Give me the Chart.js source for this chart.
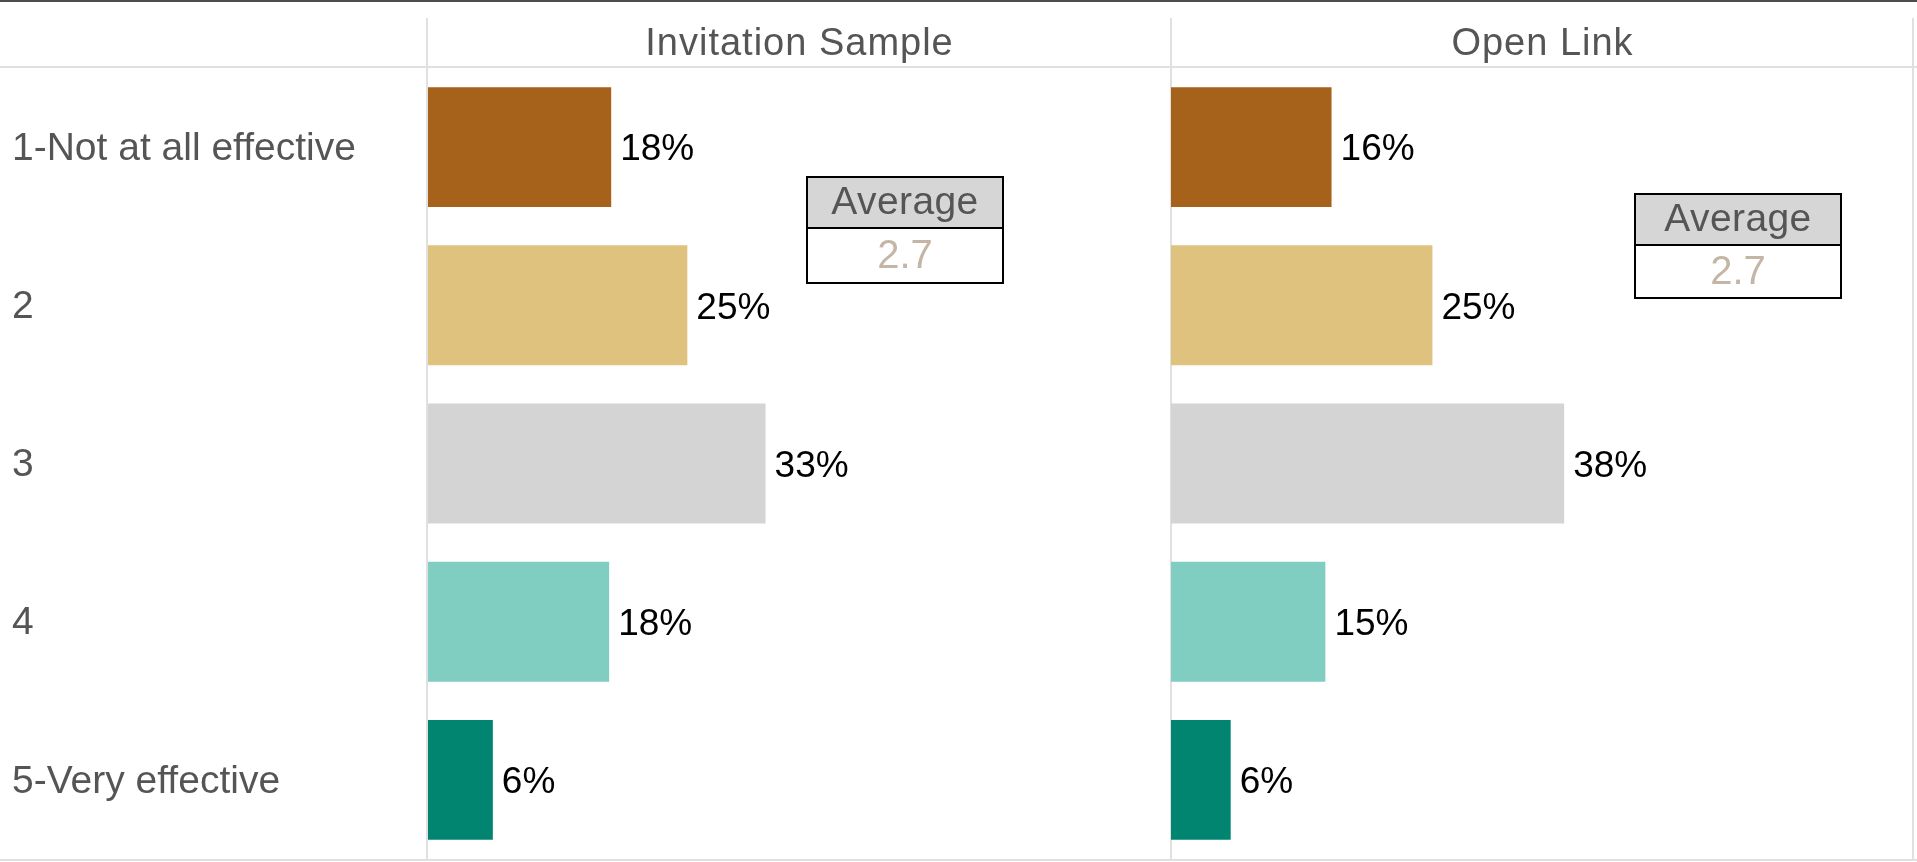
<!DOCTYPE html>
<html>
<head>
<meta charset="utf-8">
<script src="https://cdn.jsdelivr.net/npm/chart.js@4"></script>
<style>
  html, body { margin: 0; padding: 0; background: #fff; overflow: hidden; }
  #wrap { position: relative; width: 1917px; height: 862px; }
  canvas { position: absolute; top: 0; }
</style>
</head>
<body>
<div id="wrap">
  <canvas id="chartInvite" width="1170" height="862" style="left:0"></canvas>
  <canvas id="chartOpen" width="747" height="862" style="left:1170px"></canvas>
</div>
<script>
// data
const categories = ["1-Not at all effective", "2", "3", "4", "5-Very effective"];
const panelTitles = ["Invitation Sample", "Open Link"];
const inviteValues = [17.8, 25.2, 32.8, 17.6, 6.3];
const openValues = [15.6, 25.4, 38.2, 15.0, 5.8];
const averageLabel = "Average";
const averages = [2.7, 2.7];
const barColors = ["#a6611a", "#dfc27d", "#d4d4d4", "#80cdc1", "#018571"];
const axisMax = 72;

const FONT = "'Liberation Sans', Arial, sans-serif";

// grid lines + panel header
function framePlugin(title, vlines) {
  return {
    id: 'frame',
    beforeDraw(chart) {
      const ctx = chart.ctx, w = chart.width;
      const area = chart.chartArea;
      ctx.save();
      ctx.fillStyle = '#fff';
      ctx.fillRect(0, 0, w, chart.height);
      ctx.fillStyle = '#e0e0e0';
      ctx.fillRect(0, 66, w, 2);
      ctx.fillRect(0, 859, w, 2);
      vlines.forEach(x => ctx.fillRect(x, 18, 2, 842));
      ctx.fillStyle = '#4d4d4d';
      ctx.fillRect(0, 0, w, 2);

      ctx.fillStyle = '#555';
      ctx.font = `38px ${FONT}`;
      ctx.letterSpacing = '1px';
      ctx.textAlign = 'center';
      ctx.textBaseline = 'alphabetic';
      ctx.fillText(title, (area.left + area.right) / 2 + 1, 55);
      ctx.restore();
    }
  };
}

// percent labels next to the bars
const valueLabels = {
  id: 'valueLabels',
  afterDatasetsDraw(chart) {
    const ctx = chart.ctx;
    const meta = chart.getDatasetMeta(0);
    const vals = chart.data.datasets[0].data;
    ctx.save();
    ctx.fillStyle = '#000';
    ctx.font = `37px ${FONT}`;
    ctx.textAlign = 'left';
    ctx.textBaseline = 'middle';
    meta.data.forEach((bar, i) => {
      ctx.fillText(Math.round(vals[i]) + '%', bar.x + 9, bar.y + 3);
    });
    ctx.restore();
  }
};

// floating "Average" box
function averagePlugin(value, box) {
  return {
    id: 'averageBox',
    afterDraw(chart) {
      const ctx = chart.ctx;
      const x = chart.chartArea.left + box.dx;
      const y = box.top;
      const mid = y + box.head;
      const bottom = mid + box.body;
      ctx.save();
      ctx.fillStyle = '#d6d6d6';
      ctx.fillRect(x, y, box.width, box.head);
      ctx.strokeStyle = '#000';
      ctx.lineWidth = 2;
      ctx.strokeRect(x, y, box.width, bottom - y);
      ctx.beginPath();
      ctx.moveTo(x, mid);
      ctx.lineTo(x + box.width, mid);
      ctx.stroke();

      ctx.textAlign = 'center';
      ctx.textBaseline = 'middle';
      ctx.font = `39px ${FONT}`;
      ctx.letterSpacing = '0.4px';
      ctx.fillStyle = '#555';
      ctx.fillText(averageLabel, x + box.width / 2, y + box.head / 2 + 1);
      ctx.font = `40px ${FONT}`;
      ctx.letterSpacing = '0px';
      ctx.fillStyle = '#c4b5a6';
      ctx.fillText(value.toFixed(1), x + box.width / 2, mid + box.body / 2 + 1);
      ctx.restore();
    }
  };
}

function makeChart(id, values, cfg) {
  return new Chart(document.getElementById(id), {
    type: 'bar',
    data: {
      labels: categories,
      datasets: [{
        data: values,
        backgroundColor: barColors,
        barPercentage: 0.758,
        categoryPercentage: 1
      }]
    },
    options: {
      indexAxis: 'y',
      responsive: false,
      animation: false,
      layout: { padding: cfg.padding },
      plugins: { legend: { display: false }, tooltip: { enabled: false } },
      scales: {
        x: { display: false, min: 0, max: axisMax },
        y: {
          display: cfg.showLabels,
          grid: { display: false },
          border: { display: false },
          ticks: {
            crossAlign: 'far',
            padding: 0,
            labelOffset: 2,
            color: '#555',
            font: { family: FONT, size: 39 }
          },
          afterFit: s => {
            s.width = cfg.axisWidth;
            s.paddingTop = 0;
            s.paddingBottom = 0;
          }
        }
      }
    },
    plugins: [framePlugin(cfg.title, cfg.vlines), valueLabels, averagePlugin(cfg.average, cfg.box)]
  });
}

makeChart("chartInvite", inviteValues, {
  title: panelTitles[0],
  average: averages[0],
  showLabels: true,
  axisWidth: 416,
  padding: { left: 12, top: 68, bottom: 3, right: 1 },
  vlines: [426],
  box: { dx: 379, top: 177, width: 196, head: 51, body: 55 }
});

makeChart("chartOpen", openValues, {
  title: panelTitles[1],
  average: averages[1],
  showLabels: false,
  axisWidth: 0,
  padding: { left: 1, top: 68, bottom: 3, right: 5 },
  vlines: [0, 742],
  box: { dx: 464, top: 194, width: 206, head: 51, body: 53 }
});
</script>
</body>
</html>
